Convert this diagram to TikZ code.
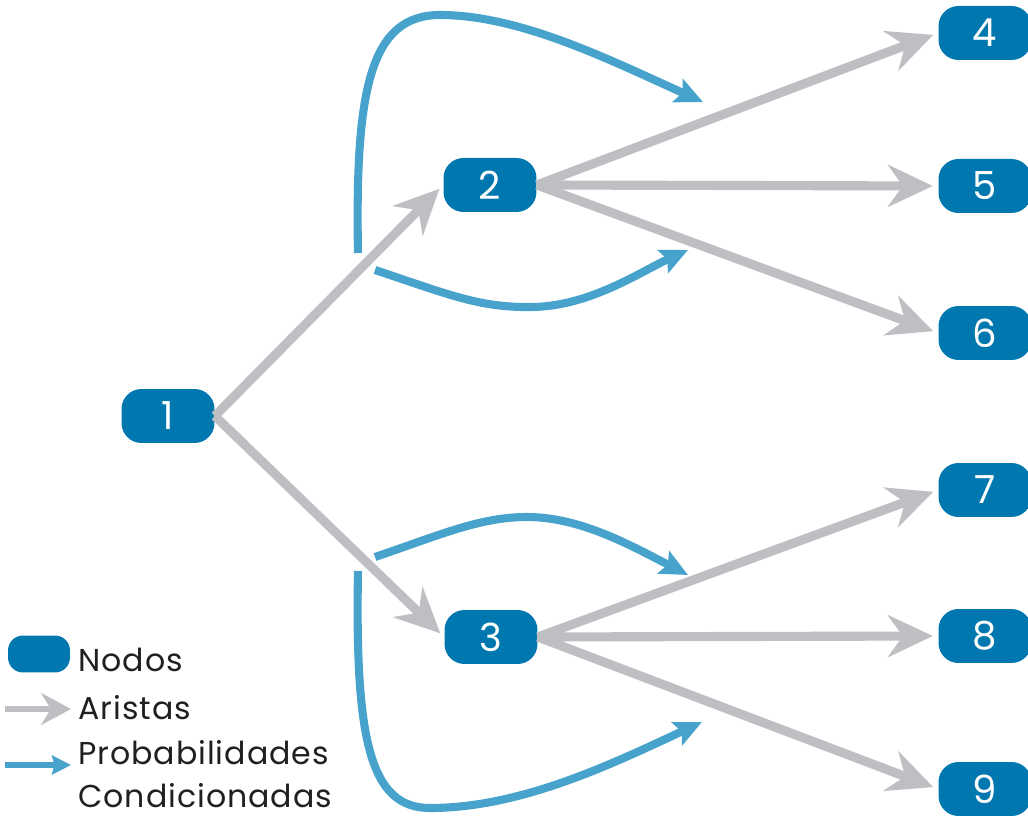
\documentclass[tikz,border=0pt]{standalone}
\usepackage{fontspec}
\setmainfont{Poppins}
\usetikzlibrary{arrows.meta}
\definecolor{nodeblue}{RGB}{0,119,174}
\definecolor{edgegray}{RGB}{190,191,195}
\definecolor{probblue}{RGB}{71,163,204}
\definecolor{textdark}{RGB}{35,31,32}
\begin{document}
\begin{tikzpicture}[x=0.02cm,y=-0.02cm,
  nodo/.style={fill=nodeblue, rounded corners=0.4cm, minimum width=1.86cm, minimum height=1.08cm, text=white, font=\fontsize{22}{22}\selectfont, inner sep=0pt},
  arista/.style={draw=edgegray, line width=5.2pt, -{Stealth[length=0.9cm,width=0.84cm,inset=0.3cm]}, shorten >=3pt},
  prob/.style={draw=probblue, line width=4.6pt, -{Stealth[length=0.55cm,width=0.5cm,inset=0.1cm]}},
  leyenda/.style={text=textdark, anchor=base west, font=\addfontfeatures{LetterSpace=3}\fontsize{18}{18}\selectfont, inner sep=0pt}]
\useasboundingbox (0,0) rectangle (1028,820);

% nodes
\node[nodo] (n1) at (168,416) {1};
\node[nodo] (n2) at (490,185) {2};
\node[nodo] (n3) at (491,637) {3};
\node[nodo] (n4) at (985,33) {4};
\node[nodo] (n5) at (985,186) {5};
\node[nodo] (n6) at (985,333) {6};
\node[nodo] (n7) at (985,490) {7};
\node[nodo] (n8) at (985,636) {8};
\node[nodo] (n9) at (985,789) {9};

% edges
\draw[arista] (n1.east) -- (n2.west);
\draw[arista] (n1.east) -- (n3.west);
\draw[arista] (n2.east) -- (n4.west);
\draw[arista] (n2.east) -- (n5.west);
\draw[arista] (n2.east) -- (n6.west);
\draw[arista] (n3.east) -- (n7.west);
\draw[arista] (n3.east) -- (n8.west);
\draw[arista] (n3.east) -- (n9.west);

% conditional probability arrows
\coordinate (pa1) at (358,253);
\coordinate (pa2) at (703,102);
\coordinate (pb1) at (375,270);
\coordinate (pb2) at (688,250);
\coordinate (pc1) at (375,557);
\coordinate (pc2) at (688,575);
\coordinate (pd1) at (358,571);
\coordinate (pd2) at (702,722);
\draw[prob] (pa1) .. controls (355,90) and (370,15) .. (440,15) .. controls (520,15) and (610,60) .. (pa2);
\draw[prob] (pb1) .. controls (450,295) and (480,308) .. (533,307) .. controls (590,306) and (640,272) .. (pb2);
\draw[prob] (pc1) .. controls (440,535) and (480,517) .. (527,517) .. controls (580,517) and (630,545) .. (pc2);
\draw[prob] (pd1) .. controls (355,740) and (370,808) .. (430,808) .. controls (520,808) and (610,765) .. (pd2);

% legend
\node[fill=nodeblue, rounded corners=0.3cm, minimum width=1.24cm, minimum height=0.74cm, inner sep=0pt] (lnodo) at (39,654) {};
\coordinate (lg1) at (5,709);
\coordinate (lg2) at (71,709);
\coordinate (lb1) at (5,765);
\coordinate (lb2) at (71,765);
\draw[draw=edgegray, line width=3.4pt, -{Stealth[length=0.6cm,width=0.64cm,inset=0.2cm]}] (lg1) -- (lg2);
\draw[draw=probblue, line width=3pt, -{Stealth[length=0.38cm,width=0.38cm,inset=0.05cm]}] (lb1) -- (lb2);
\node[leyenda] (t1) at (78,671) {Nodos};
\node[leyenda] (t2) at (78,719) {Aristas};
\node[leyenda] (t3) at (78,764) {Probabilidades};
\node[leyenda] (t4) at (78,807) {Condicionadas};
\end{tikzpicture}
\end{document}
